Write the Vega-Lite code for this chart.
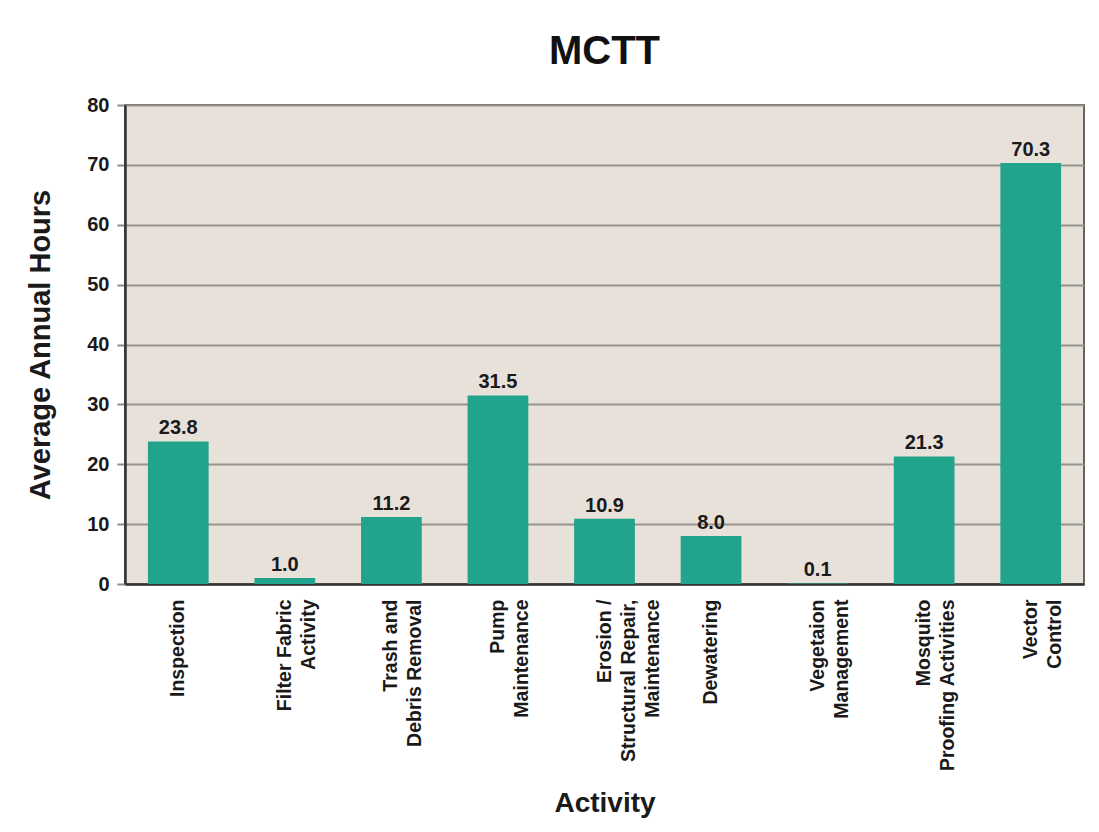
{
  "$schema": "https://vega.github.io/schema/vega-lite/v6.json",
  "width": 959,
  "height": 479,
  "autosize": {"type": "none"},
  "padding": {"left": 125, "top": 105, "right": 15, "bottom": 248},
  "background": "#ffffff",
  "title": {
    "text": "MCTT",
    "font": "Liberation Sans",
    "fontSize": 40,
    "fontWeight": "bold",
    "color": "#111111",
    "anchor": "middle",
    "offset": 23
  },
  "config": {
    "view": {"fill": "#e7e1da", "stroke": "#66625e", "strokeWidth": 2},
    "font": "Liberation Sans",
    "axis": {
      "labelFont": "Liberation Sans",
      "labelFontWeight": "bold",
      "labelColor": "#1a1a1a",
      "titleFont": "Liberation Sans",
      "titleFontWeight": "bold",
      "titleColor": "#1a1a1a",
      "domainColor": "#333333",
      "domainWidth": 2.5
    }
  },
  "data": {
    "values": [
      {"activity": "Inspection", "hours": 23.8},
      {"activity": "Filter Fabric\nActivity", "hours": 1.0},
      {"activity": "Trash and\nDebris Removal", "hours": 11.2},
      {"activity": "Pump\nMaintenance", "hours": 31.5},
      {"activity": "Erosion /\nStructural Repair,\nMaintenance", "hours": 10.9},
      {"activity": "Dewatering", "hours": 8.0},
      {"activity": "Vegetaion\nManagement", "hours": 0.1},
      {"activity": "Mosquito\nProofing Activities", "hours": 21.3},
      {"activity": "Vector\nControl", "hours": 70.3}
    ]
  },
  "encoding": {
    "x": {
      "field": "activity",
      "type": "nominal",
      "sort": null,
      "scale": {"paddingInner": 0.43, "paddingOuter": 0.215},
      "axis": {
        "title": "Activity",
        "titleFontSize": 28,
        "titlePadding": 18,
        "labelAngle": 270,
        "labelFontSize": 19.5,
        "labelLineHeight": 24,
        "labelPadding": 15,
        "labelLimit": 400,
        "ticks": false,
        "labelExpr": "split(datum.label, '\\n')"
      }
    },
    "y": {
      "field": "hours",
      "type": "quantitative",
      "scale": {"domain": [0, 80], "nice": false},
      "axis": {
        "title": "Average Annual Hours",
        "titleFontSize": 29,
        "titlePadding": 31,
        "values": [0, 10, 20, 30, 40, 50, 60, 70, 80],
        "labelFontSize": 20,
        "labelPadding": 8,
        "tickSize": 8,
        "tickColor": "#8f8a85",
        "tickWidth": 2,
        "grid": true,
        "gridColor": "#98938d",
        "gridWidth": 2,
        "gridOpacity": 1
      }
    }
  },
  "layer": [
    {"mark": {"type": "bar", "color": "#22a48c"}},
    {
      "mark": {
        "type": "text",
        "baseline": "alphabetic",
        "dy": -7,
        "font": "Liberation Sans",
        "fontSize": 20,
        "fontWeight": "bold",
        "color": "#1a1a1a"
      },
      "encoding": {
        "text": {"field": "hours", "type": "quantitative", "format": ".1f"}
      }
    }
  ]
}
